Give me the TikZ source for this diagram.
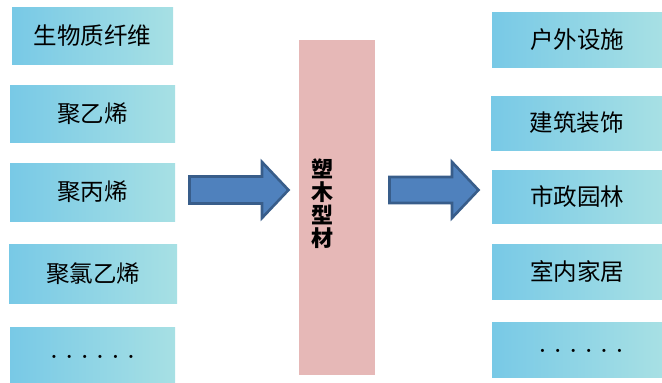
\documentclass[tikz,border=0pt]{standalone}
\usepackage{fontspec}
\newfontfamily\cjk{Noto Sans CJK SC}
\definecolor{boxL}{RGB}{120,201,230}
\definecolor{boxR}{RGB}{167,224,228}
\definecolor{midfill}{RGB}{230,184,183}
\definecolor{arrfill}{RGB}{79,129,189}
\definecolor{arrdraw}{RGB}{56,93,138}
\newcommand\dotrow{.\kern8.5pt.\kern8.5pt.\kern8.5pt.\kern8.5pt.\kern8.5pt.}
\begin{document}
\begin{tikzpicture}[x=1pt,y=-1pt,
  itembox/.style={left color=boxL,right color=boxR,draw=none,inner sep=0pt,
    font=\cjk\fontsize{23.5}{25}\selectfont,text=black},
  dotstext/.style={font=\bfseries\fontsize{22}{24}\selectfont,inner sep=0pt},
  blockarrow/.style={fill=arrfill,draw=arrdraw,line width=2.6pt,line join=miter}]
\useasboundingbox (0,0) rectangle (662,383);
% left column
\node[itembox,minimum width=161,minimum height=57] (l1) at (92.5,35.5) {生物质纤维};
\node[itembox,minimum width=165,minimum height=57] (l2) at (92.5,113.5) {聚乙烯};
\node[itembox,minimum width=165,minimum height=58] (l3) at (92.5,192) {聚丙烯};
\node[itembox,minimum width=168,minimum height=59] (l4) at (93,273.5) {聚氯乙烯};
\node[itembox,minimum width=165,minimum height=55] (l5) at (92.5,354.5) {};
\node[dotstext] (l5t) at (92.5,357) {\dotrow};
% right column
\node[itembox,minimum width=170,minimum height=55] (r1) at (577,39.5) {户外设施};
\node[itembox,minimum width=171,minimum height=54] (r2) at (576.5,123) {建筑装饰};
\node[itembox,minimum width=170,minimum height=53] (r3) at (577,196.5) {市政园林};
\node[itembox,minimum width=170,minimum height=55] (r4) at (577,271.5) {室内家居};
\node[itembox,minimum width=170,minimum height=55] (r5) at (577,349.5) {};
\node[dotstext] (r5t) at (581,351) {\dotrow};
% middle
\node[fill=midfill,minimum width=76,minimum height=335,inner sep=0pt] (mid) at (337,207.5) {};
\node[font=\cjk\bfseries\fontsize{22}{23}\selectfont,align=center,inner sep=0pt] (midt) at (322,204) {塑\\木\\型\\材};
% block arrows
\draw[blockarrow] (189.5,176.5) -- (262,176.5) -- (262,162) -- (288.5,190) -- (262,218) -- (262,203.5) -- (189.5,203.5) -- cycle;
\draw[blockarrow] (389.5,177) -- (452,177) -- (452,162) -- (478.5,190) -- (452,218) -- (452,203) -- (389.5,203) -- cycle;
\end{tikzpicture}
\end{document}
